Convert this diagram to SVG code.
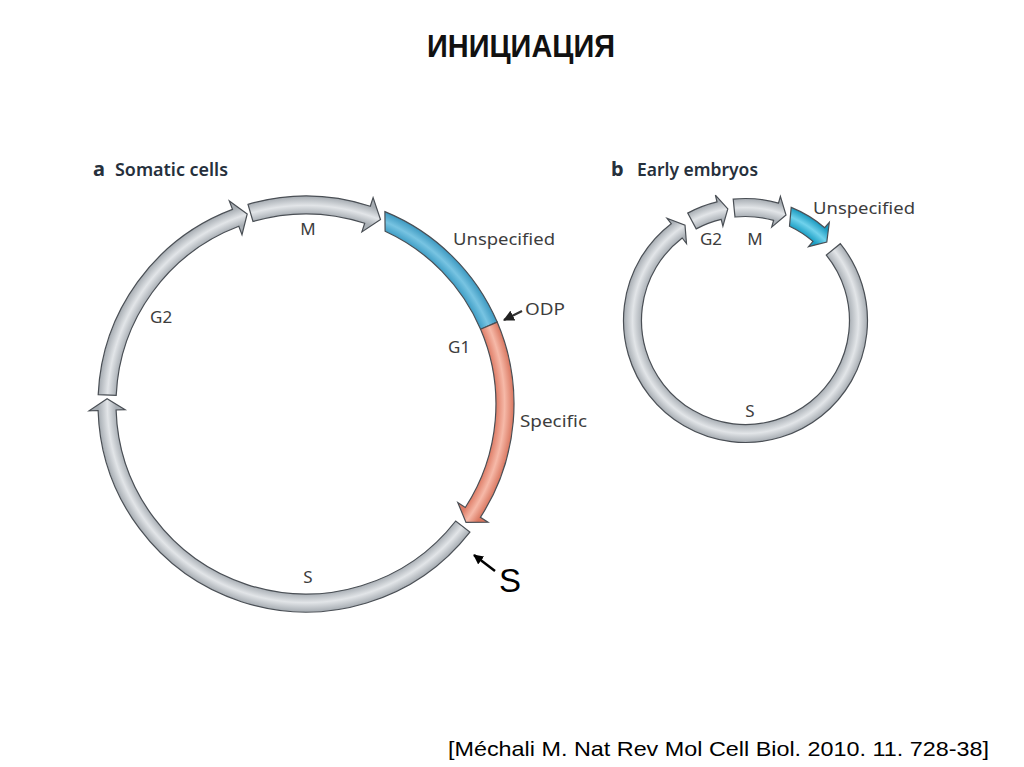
<svg xmlns="http://www.w3.org/2000/svg" width="1024" height="767" viewBox="0 0 1024 767">
<defs>
<radialGradient id="gA" gradientUnits="userSpaceOnUse" cx="306" cy="404" r="208">
<stop offset="0.913" stop-color="#aab0b6"/><stop offset="0.955" stop-color="#e2e5e8"/><stop offset="1" stop-color="#a6acb2"/>
</radialGradient>
<radialGradient id="bA" gradientUnits="userSpaceOnUse" cx="306" cy="404" r="208">
<stop offset="0.913" stop-color="#3f9ec6"/><stop offset="0.955" stop-color="#78c4e2"/><stop offset="1" stop-color="#3c98c0"/>
</radialGradient>
<radialGradient id="oA" gradientUnits="userSpaceOnUse" cx="306" cy="404" r="208">
<stop offset="0.913" stop-color="#de7c66"/><stop offset="0.955" stop-color="#f6b9a8"/><stop offset="1" stop-color="#d9765f"/>
</radialGradient>
<radialGradient id="gB" gradientUnits="userSpaceOnUse" cx="745.5" cy="320.5" r="122">
<stop offset="0.852" stop-color="#aab0b6"/><stop offset="0.926" stop-color="#e2e5e8"/><stop offset="1" stop-color="#a6acb2"/>
</radialGradient>
<radialGradient id="bB" gradientUnits="userSpaceOnUse" cx="745.5" cy="320.5" r="122">
<stop offset="0.852" stop-color="#1a9ec4"/><stop offset="0.926" stop-color="#70d2ec"/><stop offset="1" stop-color="#1898be"/>
</radialGradient>
<marker id="ah" viewBox="0 0 10 10" refX="9" refY="5" markerWidth="5" markerHeight="5" orient="auto" markerUnits="strokeWidth">
<path d="M0,0 L10,5 L0,10 Z" fill="#222"/>
</marker>
<marker id="ah2" viewBox="0 0 10 10" refX="9" refY="5" markerWidth="4" markerHeight="4" orient="auto" markerUnits="strokeWidth">
<path d="M0,0 L10,5 L0,10 Z" fill="#000"/>
</marker>
</defs>
<style>
.seg{stroke:#4a4f55;stroke-width:1.2;stroke-linejoin:miter}
.lbl{font-family:"Noto Sans","Open Sans",sans-serif;font-size:17px;fill:#3d3d3d}
.hd{font-family:"Noto Sans","Open Sans",sans-serif;font-size:18px;font-weight:600;fill:#26303c}
.hl{font-family:"Noto Sans","Open Sans",sans-serif;font-size:20px;font-weight:700;fill:#26303c}
</style>
<rect width="1024" height="767" fill="#ffffff"/>

<g id="title">
<text x="427" y="57" font-family="'Liberation Sans',Arial,sans-serif" font-size="31" font-weight="700" fill="#111" textLength="188" lengthAdjust="spacingAndGlyphs">ИНИЦИАЦИЯ</text>
</g>

<g id="panel-a-heading">
<text x="93" y="176" class="hl">a</text>
<text x="115" y="176" class="hd" textLength="113" lengthAdjust="spacingAndGlyphs">Somatic cells</text>
</g>
<g id="panel-b-heading">
<text x="611" y="176" class="hl">b</text>
<text x="637" y="176" class="hd" textLength="121" lengthAdjust="spacingAndGlyphs">Early embryos</text>
</g>

<g id="a-S">
<path class="seg" fill="url(#gA)" d="M469.9,532.1 A208,208 0 0 1 98.1,410.5 L89.1,410.8 L107.1,398.8 L125.1,409.7 L116.1,410.0 A190,190 0 0 0 455.7,521.0 Z"/>
<text x="308" y="583" class="lbl" text-anchor="middle">S</text>
</g>
<g id="a-G2">
<path class="seg" fill="url(#gA)" d="M98.2,394.6 A208,208 0 0 1 232.5,209.4 L229.3,201.0 L247.2,213.9 L242.0,234.7 L238.8,226.3 A190,190 0 0 0 116.2,395.4 Z"/>
<text x="150" y="323" class="lbl">G2</text>
</g>
<g id="a-M">
<path class="seg" fill="url(#gA)" d="M248.0,204.3 A208,208 0 0 1 370.3,206.2 L373.1,197.6 L380.5,219.5 L361.9,231.9 L364.7,223.3 A190,190 0 0 0 253.0,221.5 Z"/>
<text x="308" y="235" class="lbl" text-anchor="middle">M</text>
</g>
<g id="a-unspecified">
<path class="seg" fill="url(#bA)" d="M384.9,211.6 A208,208 0 0 1 497.2,322.1 L480.6,329.2 A190,190 0 0 0 385.1,231.2 Z"/>
<text x="453" y="245" class="lbl" textLength="102" lengthAdjust="spacingAndGlyphs">Unspecified</text>
</g>
<g id="a-specific">
<path class="seg" fill="url(#oA)" d="M497.2,322.1 A208,208 0 0 1 480.4,517.3 L488.0,522.2 L466.0,522.4 L457.8,502.6 L465.3,507.5 A190,190 0 0 0 480.6,329.2 Z"/>
<text x="520" y="427" class="lbl" textLength="67" lengthAdjust="spacingAndGlyphs">Specific</text>
<text x="448" y="353" class="lbl">G1</text>
</g>
<g id="a-ODP">
<text x="525" y="315" class="lbl" textLength="40" lengthAdjust="spacingAndGlyphs">ODP</text>
</g>
<g id="S-callout">
<text x="499" y="592" font-family="'Liberation Sans',Arial,sans-serif" font-size="33" fill="#000">S</text>
</g>

<g id="b-S">
<path class="seg" fill="url(#gB)" d="M840.3,243.7 A122,122 0 1 1 671.2,223.7 L667.0,218.2 L685.0,225.1 L686.5,243.5 L682.2,238.0 A104,104 0 1 0 826.3,255.1 Z"/>
<text x="750" y="417" class="lbl" text-anchor="middle">S</text>
</g>
<g id="b-G2">
<path class="seg" fill="url(#gB)" d="M687.7,213.1 A122,122 0 0 1 717.0,201.9 L715.4,195.1 L727.8,208.9 L722.9,226.2 L721.2,219.4 A104,104 0 0 0 696.2,228.9 Z"/>
<text x="711" y="245" class="lbl" text-anchor="middle">G2</text>
</g>
<g id="b-M">
<path class="seg" fill="url(#gB)" d="M733.2,199.1 A122,122 0 0 1 778.5,203.1 L780.4,196.3 L786.0,215.0 L771.7,227.1 L773.6,220.4 A104,104 0 0 0 735.0,217.0 Z"/>
<text x="755" y="245" class="lbl" text-anchor="middle">M</text>
</g>
<g id="b-unspecified">
<path class="seg" fill="url(#bB)" d="M791.2,207.4 A122,122 0 0 1 824.7,227.7 L829.3,222.4 L826.8,242.0 L808.5,246.7 L813.0,241.4 A104,104 0 0 0 789.5,226.2 Z"/>
<text x="813" y="214" class="lbl" textLength="102" lengthAdjust="spacingAndGlyphs">Unspecified</text>
</g>

<g id="connectors">
<line x1="522" y1="311" x2="504" y2="320" stroke="#333" stroke-width="2.2" marker-end="url(#ah)"/>
<line x1="495" y1="571" x2="474" y2="555" stroke="#000" stroke-width="2.5" marker-end="url(#ah2)"/>
</g>

<g id="citation">
<text x="448" y="756" font-family="'Liberation Sans',Arial,sans-serif" font-size="21" fill="#000" textLength="541" lengthAdjust="spacingAndGlyphs">[Méchali M. Nat Rev Mol Cell Biol. 2010. 11. 728-38]</text>
</g>
</svg>
